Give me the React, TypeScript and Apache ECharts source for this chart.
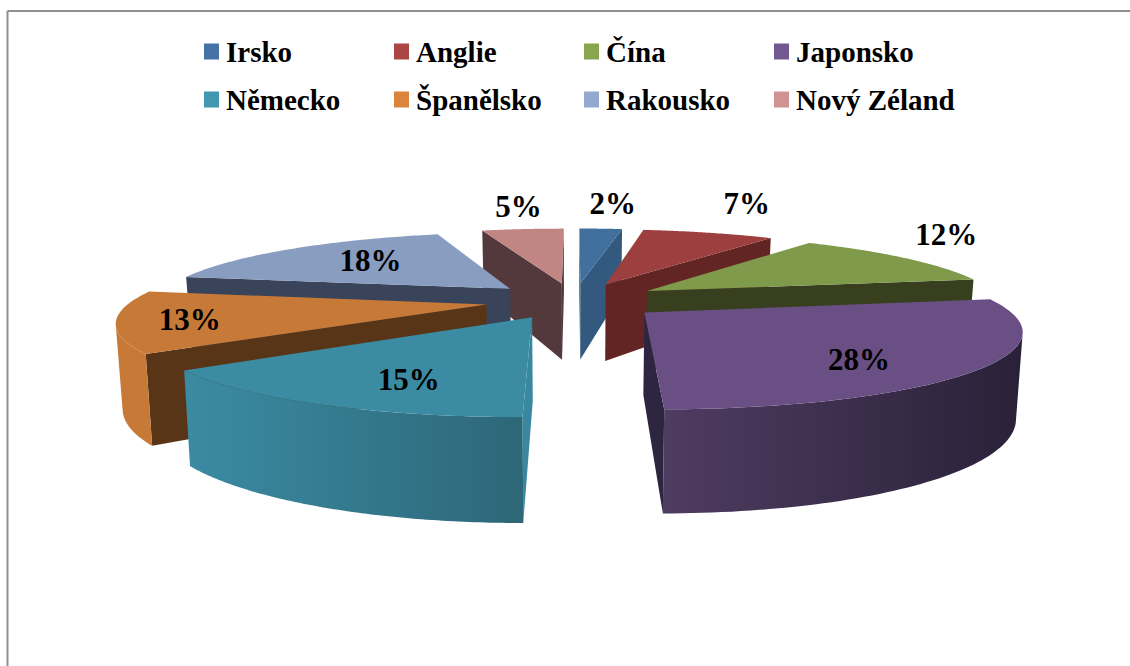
import React, { useEffect, useRef } from "react";
import * as echarts from "echarts";

const categories = ["Irsko", "Anglie", "Čína", "Japonsko", "Německo", "Španělsko", "Rakousko", "Nový Zéland"];
const shares = [2.4, 7.4, 12.4, 27.8, 15, 13, 17.5, 4.6];
const legendColors = ["#4572a7", "#aa4643", "#89a54e", "#71588f", "#4198af", "#db843d", "#93a9cf", "#d19392"];
const topColors = ["#41709f", "#9c3f3e", "#7e9a4a", "#6a4f85", "#3b8ba3", "#c77a38", "#889dc0", "#c18584"];
const faceColors = ["#34597f", "#632524", "#373f1e", "#2e2540", "#3a87a0", "#593518", "#39445a", "#53393b"];
const rimLeft = ["#34597f", "#632524", "#373f1e", "#4e3c61", "#3b8ba3", "#c77a38", "#39445a", "#53393b"];
const rimRight = ["#34597f", "#632524", "#373f1e", "#2a2138", "#2d6778", "#c77a38", "#39445a", "#53393b"];
// where each percentage label sits: radius on the slice and pixel nudge
const labelRadius = [1.3, 1.3, 1.1, 0.6, 0.6, 0.85, 0.72, 1.3];
const labelNudge = [[7, -12], [13, -17], [19, -20], [25, 15], [-5, 15], [16, 0], [23, 1], [5, -9]];

const CX = 574, CY = 300.5, RX = 355, TILT = 72, PERSP = 0.2, EXPLODE = 0.25, DEPTH = 80, CONVERGE = 0.985;
const total = shares.reduce((a, b) => a + b, 0);
const starts: number[] = [];
shares.reduce((acc, v, i) => { starts[i] = acc; return acc + v; }, 0);
const toRad = (share: number) => (share / total) * Math.PI * 2;

function project(X: number, Y: number, down: boolean) {
  const s = 1 / (1 + PERSP * Y);
  const x = CX + RX * X * s;
  const y = CY - TILT * Y * s;
  if (!down) return [x, y];
  return [CX + (x - CX) * CONVERGE, y + DEPTH * s];
}
function sliceGeometry(i: number) {
  const a0 = toRad(starts[i]);
  const a1 = toRad(starts[i] + shares[i]);
  const mid = (a0 + a1) / 2;
  const ox = EXPLODE * Math.sin(mid);
  const oy = EXPLODE * Math.cos(mid);
  const rim = (a: number, down: boolean, r = 1) => project(ox + r * Math.sin(a), oy + r * Math.cos(a), down);
  return { a0, a1, mid, ox, oy, rim, apexTop: project(ox, oy, false), apexBot: project(ox, oy, true) };
}
function area(p: number[][]) {
  let t = 0;
  for (let i = 0; i < p.length; i++) {
    const q = p[(i + 1) % p.length];
    t += p[i][0] * q[1] - q[0] * p[i][1];
  }
  return t;
}
function depthOf(i: number) {
  const g = sliceGeometry(i);
  return g.oy + 0.6 * Math.cos(g.mid);
}

function renderSlice(i: number) {
  const g = sliceGeometry(i);
  const steps = 80;
  const angles: number[] = [];
  for (let k = 0; k <= steps; k++) angles.push(g.a0 + ((g.a1 - g.a0) * k) / steps);
  const topPts = [g.apexTop, ...angles.map((a) => g.rim(a, false))];
  const children: any[] = [];
  // radial cut faces
  const startFace = [g.apexTop, g.rim(g.a0, false), g.rim(g.a0, true), g.apexBot];
  const endFace = [g.apexTop, g.rim(g.a1, false), g.rim(g.a1, true), g.apexBot];
  if (area(startFace) < 0) children.push({ type: "polygon", shape: { points: startFace }, style: { fill: faceColors[i] } });
  if (area(endFace) > 0) children.push({ type: "polygon", shape: { points: endFace }, style: { fill: faceColors[i] } });
  // outer wall, only where it faces the viewer
  const vis = angles.filter((a, k) => {
    if (k === steps) return false;
    const b = angles[k + 1];
    return area([g.rim(a, false), g.rim(b, false), g.rim(b, true), g.rim(a, true)]) < 0;
  });
  if (vis.length) {
    const last = vis[vis.length - 1] + (g.a1 - g.a0) / steps;
    const arc = [...vis, last];
    const pts = [...arc.map((a) => g.rim(a, false)), ...arc.slice().reverse().map((a) => g.rim(a, true))];
    children.push({
      type: "polygon",
      shape: { points: pts },
      style: {
        fill: {
          type: "linear", x: 0, y: 0, x2: 1, y2: 0,
          colorStops: [{ offset: 0, color: rimLeft[i] }, { offset: 1, color: rimRight[i] }],
        },
      },
    });
  }
  children.push({ type: "polygon", shape: { points: topPts }, style: { fill: topColors[i] } });
  return { type: "group", children };
}

function renderLabel(i: number) {
  const g = sliceGeometry(i);
  const p = g.rim(g.mid, false, labelRadius[i]);
  return {
    type: "text",
    x: p[0] + labelNudge[i][0],
    y: p[1] + labelNudge[i][1],
    style: {
      text: Math.round(shares[i]) + "%",
      fill: "#000",
      font: 'bold 31px "Liberation Serif"',
      textAlign: "center",
      textVerticalAlign: "middle",
    },
  };
}

const paintOrder = categories.map((_, i) => i).sort((a, b) => depthOf(b) - depthOf(a));

export default function App() {
  const ref = useRef<HTMLDivElement>(null);
  useEffect(() => {
    const chart = echarts.init(ref.current!, undefined, { renderer: "svg" });
    chart.setOption({
      animation: false,
      backgroundColor: "#fff",
      legend: {
        left: 199,
        top: 30,
        width: 800,
        icon: "rect",
        itemWidth: 15,
        itemHeight: 16,
        itemGap: 15,
        selectedMode: false,
        textStyle: {
          fontFamily: "Liberation Serif",
          fontWeight: "bold",
          fontSize: 29,
          color: "#000",
          width: 153,
          lineHeight: 33,
          padding: [0, 0, 0, 2],
        },
        data: categories.map((name, i) => ({ name, itemStyle: { color: legendColors[i] } })),
      },
      graphic: [
        { type: "line", shape: { x1: 7.5, y1: 11, x2: 1130, y2: 11 }, style: { stroke: "#8f8f8f", lineWidth: 2 } },
        { type: "line", shape: { x1: 7.5, y1: 11, x2: 7.5, y2: 666 }, style: { stroke: "#8f8f8f", lineWidth: 2 } },
      ],
      series: [
        ...paintOrder.map((i) => ({
          type: "custom",
          name: categories[i],
          coordinateSystem: "none",
          silent: true,
          itemStyle: { color: legendColors[i] },
          data: [shares[i]],
          renderItem: () => renderSlice(i),
        })),
        {
          type: "custom",
          name: "popisky",
          coordinateSystem: "none",
          silent: true,
          z: 10,
          data: shares,
          renderItem: (params: any) => renderLabel(params.dataIndex),
        },
      ],
    });
    return () => chart.dispose();
  }, []);
  return <div ref={ref} style={{ position: "fixed", left: 0, top: 0, width: 1130, height: 666 }} />;
}
